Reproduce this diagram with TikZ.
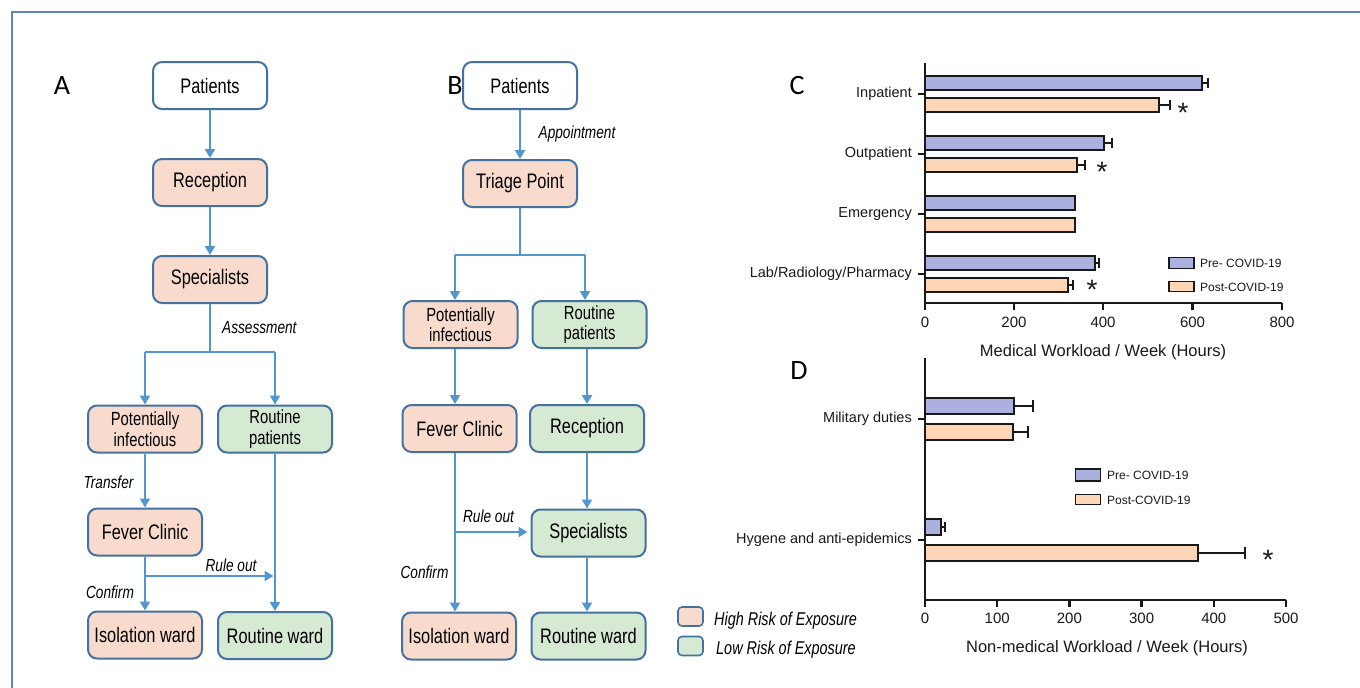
\documentclass[tikz,border=0pt]{standalone}
\usepackage{fontspec}
\setmainfont{Liberation Sans}
\newfontfamily\letterfont{Carlito}
\newfontfamily\boxfont[FakeStretch=0.78]{Liberation Sans}
\usetikzlibrary{arrows.meta}
\definecolor{boxblue}{RGB}{68,114,160}
\definecolor{arrblue}{RGB}{82,150,208}
\definecolor{pinkfill}{RGB}{248,219,205}
\definecolor{greenfill}{RGB}{214,233,210}
\definecolor{framecol}{RGB}{96,135,178}
\definecolor{barpre}{RGB}{172,176,222}
\definecolor{barpost}{RGB}{252,214,183}
\definecolor{ink}{RGB}{25,25,25}
\begin{document}
\begin{tikzpicture}[x=1pt,y=-1pt,
  box/.style={draw=boxblue, line width=2pt, rounded corners=9pt, minimum width=114pt, minimum height=47pt, inner sep=0pt, align=center, font=\boxfont\fontsize{21}{24}\selectfont},
  hi/.style={box, fill=pinkfill},
  lo/.style={box, fill=greenfill},
  wh/.style={box, fill=white},
  two/.style={font=\boxfont\fontsize{19}{20.5}\selectfont},
  arr/.style={draw=arrblue, line width=2pt, -{Triangle[length=9pt,width=10pt]}},
  thinl/.style={draw=arrblue, line width=1.2pt},
  lab/.style={font=\boxfont\itshape\fontsize{17.5}{19}\selectfont, inner sep=0pt},
  leglab/.style={font=\boxfont\itshape\fontsize{18.5}{20}\selectfont, inner sep=0pt, anchor=west},
  letter/.style={font=\letterfont\fontsize{28}{30}\selectfont, inner sep=0pt},
  legbox/.style={draw=boxblue, line width=1.6pt, rounded corners=4pt, minimum width=25pt, minimum height=19pt, inner sep=0pt},
  axis/.style={draw=ink, line width=2.5pt},
  bar/.style={draw=ink, line width=1.4pt},
  err/.style={draw=ink, line width=2pt},
  tick/.style={font=\fontsize{15}{17}\selectfont, inner sep=0pt, text=ink},
  cat/.style={font=\fontsize{14.5}{17}\selectfont, inner sep=0pt, anchor=east, text=ink},
  ttl/.style={font=\fontsize{16.5}{19}\selectfont, inner sep=0pt, text=ink},
  leg/.style={font=\fontsize{12}{14}\selectfont, inner sep=0pt, anchor=west, text=ink},
  starmark/.style={font=\fontsize{28}{28}\selectfont, inner sep=0pt, anchor=base, text=ink},
  lbox/.style={draw=ink, line width=1.4pt, minimum width=25pt, minimum height=10.5pt, inner sep=0pt}
]
\useasboundingbox (0,0) rectangle (1360,688);
\fill[white] (0,0) rectangle (1360,688);
% frame
\draw[framecol, line width=2pt] (12,688) -- (12,12) -- (1360,12);

% ---------- Panel A ----------
\node[letter] (la) at (62,86) {A};
\node[wh] (patA) at (210,85.5) {Patients};
\node[hi] (recA) at (210,182.5) {Reception};
\node[hi] (specA) at (210,279.5) {Specialists};
\node[hi, two] (piA) at (145,429) {Potentially\\infectious};
\node[lo, two] (rpA) at (275,429) {Routine\\patients};
\node[hi] (fcA) at (145,532) {Fever Clinic};
\node[hi] (isoA) at (145,635) {Isolation ward};
\node[lo] (rwA) at (275,635.5) {Routine ward};

\draw[arr] (patA) -- (recA);
\draw[arr] (recA) -- (specA);
\coordinate (jA) at (210,352);
\draw[thinl] (specA.south) -- (jA);
\draw[thinl] (jA -| piA.north) -- (jA -| rpA.north);
\draw[arr] (jA -| piA.north) -- (piA.north);
\draw[arr] (jA -| rpA.north) -- (rpA.north);
\draw[arr] (piA) -- (fcA);
\draw[arr] (fcA) -- (isoA);
\draw[arr] (rpA.south) -- (rwA.north);
\coordinate (roA) at (145,576);
\draw[arr, shorten >=1.5pt] (roA) -- (roA -| rpA.south);

\node[lab, anchor=west] (tAss) at (222,328) {Assessment};
\node[lab] (tTr) at (108.5,482) {Transfer};
\node[lab] (tRoA) at (231,565) {Rule out};
\node[lab] (tCoA) at (110,592) {Confirm};

% ---------- Panel B ----------
\node[letter] (lb) at (455,86) {B};
\node[wh] (patB) at (520,85.5) {Patients};
\node[hi] (triB) at (520,183.5) {Triage Point};
\node[hi, two] (piB) at (460.5,324.5) {Potentially\\infectious};
\node[lo, two] (rpB) at (589.5,324.5) {Routine\\patients};
\node[hi] (fcB) at (459.5,428.5) {Fever Clinic};
\node[lo] (recB) at (587,428.5) {Reception};
\node[lo] (specB) at (588.5,533) {Specialists};
\node[hi] (isoB) at (459,636) {Isolation ward};
\node[lo] (rwB) at (588.5,636) {Routine ward};

\draw[arr] (patB) -- (triB);
\coordinate (jB) at (520,255);
\coordinate (jBl) at (455,255);
\coordinate (jBr) at (585,255);
\draw[thinl] (triB.south) -- (jB);
\draw[thinl] (jBl) -- (jBr);
\draw[arr] (jBl) -- (jBl |- piB.north);
\draw[arr] (jBr) -- (jBr |- rpB.north);
\draw[arr] (piB.south -| jBl) -- (fcB.north -| jBl);
\draw[arr] (rpB.south -| recB.north) -- (recB.north);
\draw[arr] (recB.south) -- (recB.south |- specB.north);
\draw[arr] (specB.south -| recB.south) -- (rwB.north -| recB.south);
\draw[arr] (fcB.south -| jBl) -- (isoB.north -| jBl);
\coordinate (roB) at (455,532);
\draw[arr, shorten >=3pt] (roB) -- (specB.west |- roB);

\node[lab] (tApp) at (577,134) {Appointment};
\node[lab] (tRoB) at (488.5,516) {Rule out};
\node[lab] (tCoB) at (424.5,572) {Confirm};

% legend
\node[legbox, fill=pinkfill] (lgh) at (690.5,616.5) {};
\node[legbox, fill=greenfill] (lgl) at (690.5,646) {};
\node[leglab] (tgh) at (714,621) {High Risk of Exposure};
\node[leglab] (tgl) at (716,650) {Low Risk of Exposure};

% ---------- Panel C ----------
\node[letter] (lc) at (797,86) {C};
% bars
\draw[bar, fill=barpre]  (925,76) rectangle (1202,90);
\draw[bar, fill=barpost] (925,98) rectangle (1159,112);
\draw[bar, fill=barpre]  (925,136) rectangle (1104,150);
\draw[bar, fill=barpost] (925,158) rectangle (1077,172);
\draw[bar, fill=barpre]  (925,196) rectangle (1075,210);
\draw[bar, fill=barpost] (925,218) rectangle (1075,232);
\draw[bar, fill=barpre]  (925,256) rectangle (1095,270);
\draw[bar, fill=barpost] (925,278) rectangle (1068,292);
% error bars
\draw[err] (1202,83) -- (1208,83) (1208,78) -- (1208,88);
\draw[err] (1159,105) -- (1170,105) (1170,100) -- (1170,110);
\draw[err] (1104,143) -- (1112,143) (1112,138) -- (1112,148);
\draw[err] (1077,165) -- (1085,165) (1085,160) -- (1085,170);
\draw[err] (1095,263) -- (1099,263) (1099,258) -- (1099,268);
\draw[err] (1068,285) -- (1073,285) (1073,280) -- (1073,290);
% axes
\draw[axis] (925,63) -- (925,303) -- (1282,303);
\foreach \x/\l in {925/0,1014/200,1103/400,1192.5/600,1282/800}{
  \draw[axis] (\x,303) -- (\x,310);
  \node[tick] at (\x,322) {\l};
}
\foreach \y in {94,154,214,274}{ \draw[axis] (925,\y) -- (918,\y); }
\node[cat] (cIn) at (912,94) {Inpatient};
\node[cat] (cOut) at (912,154) {Outpatient};
\node[cat] (cEm) at (912,214) {Emergency};
\node[cat] (cLab) at (912,274) {Lab/Radiology/Pharmacy};
\node[ttl] (tC) at (1103,352) {Medical Workload / Week (Hours)};
\node[starmark] at (1183,122) {*};
\node[starmark] at (1102,181) {*};
\node[starmark] at (1092,299) {*};
% legend C
\node[lbox, fill=barpre]  (lcp) at (1181.5,263) {};
\node[lbox, fill=barpost] (lcq) at (1181.5,286.5) {};
\node[leg] (tcp) at (1200,263) {Pre- COVID-19};
\node[leg] (tcq) at (1200,287) {Post-COVID-19};

% ---------- Panel D ----------
\node[letter] (ld) at (799,371) {D};
\draw[bar, fill=barpre]  (925,398) rectangle (1014,414);
\draw[bar, fill=barpost] (925,424) rectangle (1013,440);
\draw[bar, fill=barpre]  (925,519) rectangle (941,535);
\draw[bar, fill=barpost] (925,545) rectangle (1198,561);
\draw[err] (1014,406) -- (1033,406) (1033,400) -- (1033,412);
\draw[err] (1013,432) -- (1028,432) (1028,426) -- (1028,438);
\draw[err] (941,527) -- (945,527) (945,522) -- (945,532);
\draw[err] (1198,553) -- (1245,553) (1245,547) -- (1245,559);
\draw[axis] (925,358) -- (925,600) -- (1286,600);
\foreach \x/\l in {925/0,997.2/100,1069.4/200,1141.6/300,1213.8/400,1286/500}{
  \draw[axis] (\x,600) -- (\x,607);
  \node[tick] at (\x,618) {\l};
}
\foreach \y in {419,540}{ \draw[axis] (925,\y) -- (918,\y); }
\node[cat] (cMil) at (912,419) {Military duties};
\node[cat] (cHyg) at (912,540) {Hygene and anti-epidemics};
\node[ttl] (tD) at (1107,648) {Non-medical Workload / Week (Hours)};
\node[starmark] at (1268,569) {*};
\node[lbox, fill=barpre, minimum height=12pt]  (ldp) at (1088,475) {};
\node[lbox, fill=barpost] (ldq) at (1088,499.5) {};
\node[leg] (tdp) at (1107,475) {Pre- COVID-19};
\node[leg] (tdq) at (1107,500) {Post-COVID-19};
\end{tikzpicture}
\end{document}
